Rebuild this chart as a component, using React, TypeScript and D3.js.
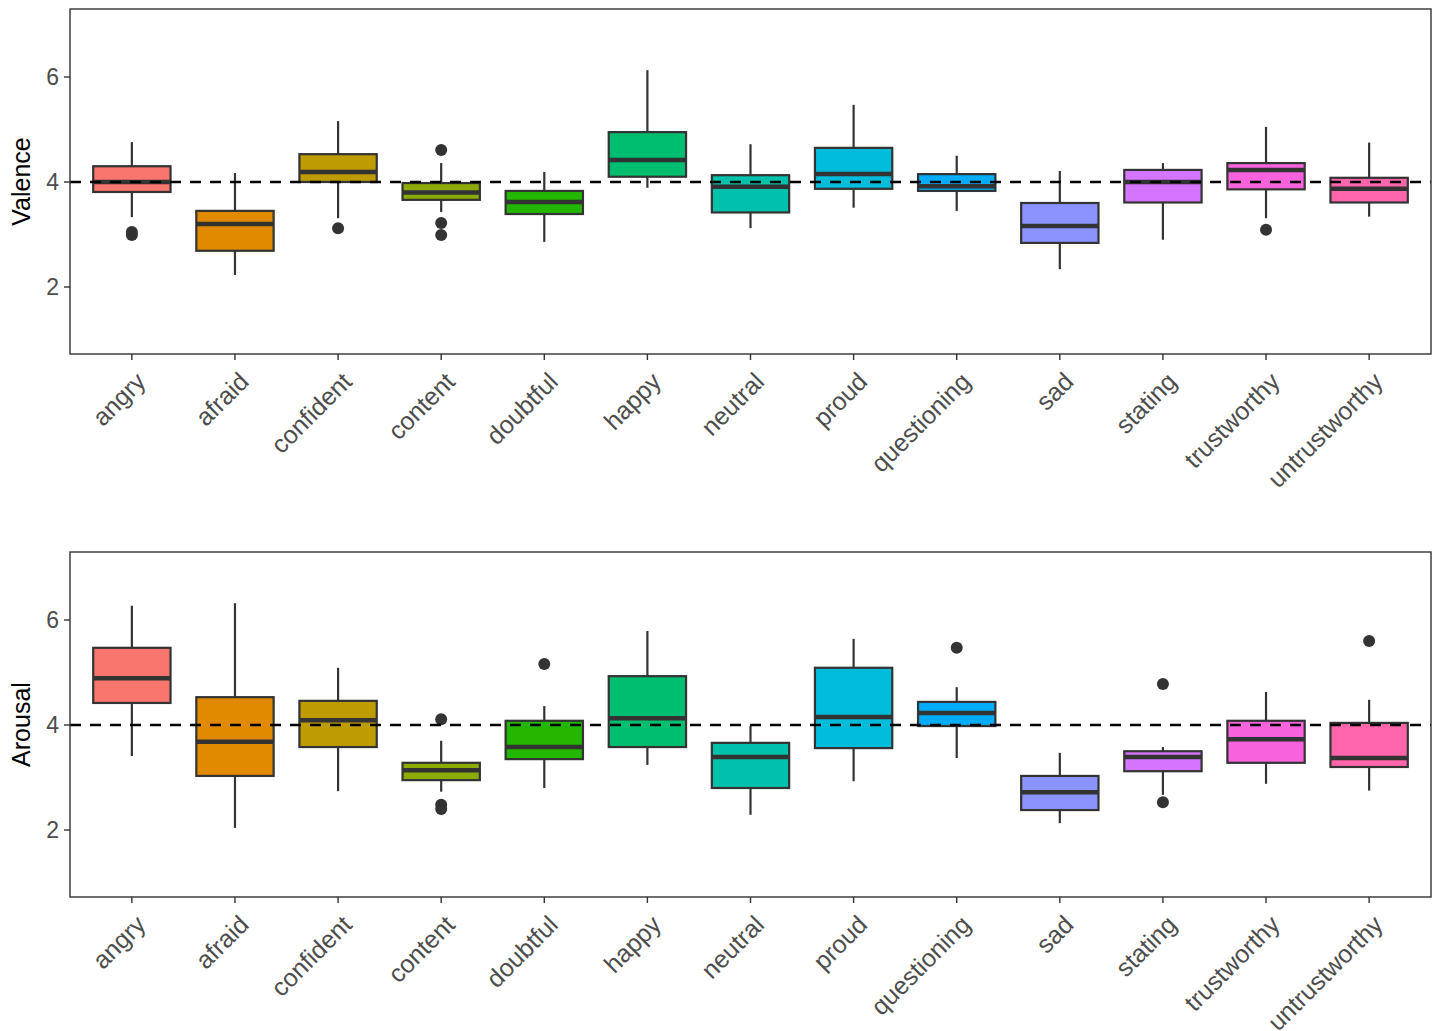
import * as d3 from 'd3';

// emotions on the x axis, same order in both panels
const emotions = [
  'angry', 'afraid', 'confident', 'content', 'doubtful', 'happy', 'neutral',
  'proud', 'questioning', 'sad', 'stating', 'trustworthy', 'untrustworthy',
];

// ggplot default hue palette for 13 levels
const colors = [
  '#F8766D', '#E18A00', '#BE9C00', '#8CAB00', '#24B700', '#00BE70', '#00C1AB',
  '#00BBDA', '#00ACFC', '#8B93FF', '#D575FE', '#F962DD', '#FF65AC',
];

// [lower whisker, q1, median, q3, upper whisker]
const valenceStats = [
  [3.33, 3.81, 4.0, 4.3, 4.76],
  [2.23, 2.69, 3.2, 3.45, 4.17],
  [3.31, 4.0, 4.19, 4.53, 5.16],
  [3.43, 3.66, 3.8, 3.98, 4.36],
  [2.86, 3.39, 3.62, 3.83, 4.19],
  [3.89, 4.1, 4.42, 4.95, 6.13],
  [3.12, 3.42, 3.91, 4.13, 4.72],
  [3.51, 3.87, 4.15, 4.65, 5.47],
  [3.45, 3.83, 3.92, 4.15, 4.5],
  [2.34, 2.84, 3.16, 3.6, 4.21],
  [2.9, 3.61, 4.0, 4.23, 4.36],
  [3.31, 3.86, 4.23, 4.36, 5.05],
  [3.34, 3.61, 3.87, 4.08, 4.75],
];
const valenceOutliers = [
  [3.05, 2.99], [], [3.12], [4.61, 3.22, 2.99], [], [], [], [], [], [], [], [3.09], [],
];

const arousalStats = [
  [3.41, 4.42, 4.89, 5.47, 6.27],
  [2.04, 3.03, 3.68, 4.53, 6.32],
  [2.74, 3.58, 4.09, 4.46, 5.09],
  [2.73, 2.95, 3.14, 3.28, 3.7],
  [2.8, 3.35, 3.58, 4.08, 4.36],
  [3.24, 3.58, 4.13, 4.93, 5.79],
  [2.29, 2.8, 3.39, 3.66, 3.98],
  [2.93, 3.56, 4.15, 5.09, 5.64],
  [3.37, 3.98, 4.23, 4.44, 4.72],
  [2.13, 2.38, 2.72, 3.03, 3.47],
  [2.67, 3.12, 3.39, 3.5, 3.58],
  [2.88, 3.28, 3.73, 4.08, 4.63],
  [2.75, 3.2, 3.37, 4.04, 4.48],
];
const arousalOutliers = [
  [], [], [], [4.11, 2.48, 2.4], [5.16], [], [], [], [5.47], [], [4.78, 2.53], [], [5.6],
];

const yTicks = [2, 4, 6];
const refLine = 4;

const width = 1436;
const height = 1031;
const left = 70;
const right = 1431;
const panelH = 345;
const font = '"Liberation Sans", Arial, sans-serif';
const dark = '#333333';

function Panel({ top, label, stats, outliers }) {
  const x = d3
    .scaleBand()
    .domain(emotions)
    .range([left, right])
    .paddingOuter(0.1)
    .paddingInner(0);
  const bw = x.bandwidth() * 0.75;
  const y = d3.scaleLinear().domain([0.724, 7.295]).range([top + panelH, top]);
  const bottom = top + panelH;

  return (
    <g>
      {/* boxes */}
      {emotions.map((e, i) => {
        const [lo, q1, med, q3, hi] = stats[i];
        const cx = x(e) + x.bandwidth() / 2;
        return (
          <g key={e}>
            <line x1={cx} x2={cx} y1={y(hi)} y2={y(q3)} stroke={dark} strokeWidth={2.2} />
            <line x1={cx} x2={cx} y1={y(q1)} y2={y(lo)} stroke={dark} strokeWidth={2.2} />
            <rect
              x={cx - bw / 2}
              y={y(q3)}
              width={bw}
              height={y(q1) - y(q3)}
              fill={colors[i]}
              stroke={dark}
              strokeWidth={2.2}
            />
            <line
              x1={cx - bw / 2}
              x2={cx + bw / 2}
              y1={y(med)}
              y2={y(med)}
              stroke={dark}
              strokeWidth={4.5}
            />
            {outliers[i].map((o, j) => (
              <circle key={j} cx={cx} cy={y(o)} r={6} fill={dark} />
            ))}
          </g>
        );
      })}
      {/* reference line at 4 */}
      <line
        x1={left}
        x2={right}
        y1={y(refLine)}
        y2={y(refLine)}
        stroke="black"
        strokeWidth={2.5}
        strokeDasharray="11,9"
      />
      {/* panel border */}
      <rect
        x={left}
        y={top}
        width={right - left}
        height={panelH}
        fill="none"
        stroke={dark}
        strokeWidth={1.4}
      />
      {/* y axis */}
      {yTicks.map((t) => (
        <g key={t}>
          <line x1={left - 6} x2={left} y1={y(t)} y2={y(t)} stroke={dark} strokeWidth={1.4} />
          <text
            x={left - 11}
            y={y(t)}
            dy="0.36em"
            textAnchor="end"
            fontFamily={font}
            fontSize={23}
            fill="#4d4d4d"
          >
            {t}
          </text>
        </g>
      ))}
      <text
        transform={`translate(30,${top + panelH / 2}) rotate(-90)`}
        textAnchor="middle"
        fontFamily={font}
        fontSize={25}
        fill="black"
      >
        {label}
      </text>
      {/* x axis */}
      {emotions.map((e) => {
        const cx = x(e) + x.bandwidth() / 2;
        return (
          <g key={e}>
            <line x1={cx} x2={cx} y1={bottom} y2={bottom + 6} stroke={dark} strokeWidth={1.4} />
            <text
              transform={`translate(${cx + 2},${bottom + 16}) rotate(-45)`}
              textAnchor="end"
              dy="0.75em"
              fontFamily={font}
              fontSize={25}
              fill="#4d4d4d"
            >
              {e}
            </text>
          </g>
        );
      })}
    </g>
  );
}

export default function App() {
  return (
    <svg
      width={width}
      height={height}
      style={{ position: 'absolute', left: 0, top: 0, background: 'white' }}
    >
      <rect width={width} height={height} fill="white" />
      <Panel top={9} label="Valence" stats={valenceStats} outliers={valenceOutliers} />
      <Panel top={552} label="Arousal" stats={arousalStats} outliers={arousalOutliers} />
    </svg>
  );
}
